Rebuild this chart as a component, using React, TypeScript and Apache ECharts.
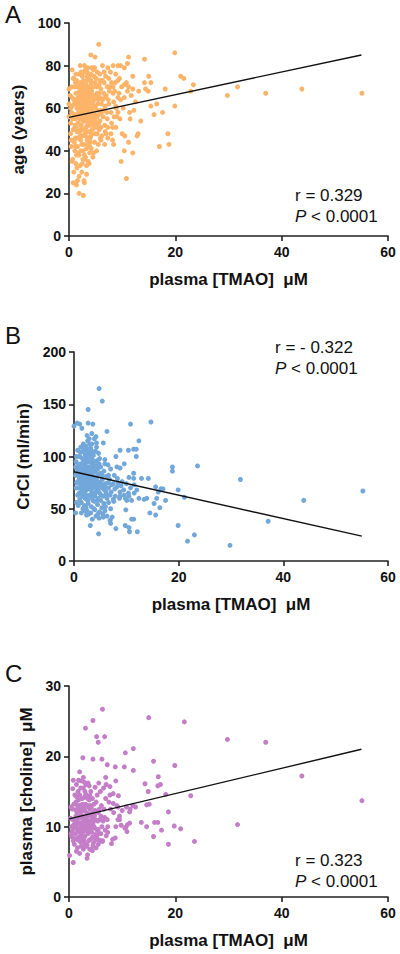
import React, { useEffect, useRef } from "react";
import * as echarts from "echarts";

// ---------- DATA ----------
const xTicks = [0, 20, 40, 60];
const xTitle = "plasma [TMAO]  μM";

const panelLetters = ["A", "B", "C"];
const yTitles = ["age (years)", "CrCl (ml/min)", "plasma [choline]  μM"];
const yRanges = [
  [0, 100, 20],
  [0, 200, 50],
  [0, 30, 10],
];
const rValues = ["r = 0.329", "r = - 0.322", "r = 0.323"];
const pValue = "< 0.0001";

const fitAge = [[0, 55.7], [55, 85]];
const fitCrcl = [[0, 85.4], [55, 23.8]];
const fitCholine = [[0, 11.1], [55, 21]];

const tmaoAge = [
  [5.6, 90], [19.9, 86], [14.2, 83], [11.2, 84], [4.1, 85], [4.9, 84], [21, 75], [21.6, 74],
  [23.4, 71], [22.9, 68], [29.8, 66], [31.7, 70], [37, 67], [43.8, 69], [55.1, 67], [19.9, 61],
  [18.1, 69], [17.6, 58], [18.6, 48], [18.8, 43], [17, 42], [16, 57], [15.4, 61], [16.5, 62],
  [15, 75], [14.2, 72], [15.4, 72], [14.4, 69], [14.9, 68], [13.1, 68], [12, 75], [12, 69],
  [12.2, 59], [13.5, 54], [13, 48], [12.8, 47], [12, 39], [10.8, 27], [9.8, 35], [10.4, 40],
  [10.5, 47], [10, 48], [11.2, 44], [11.4, 58], [11.5, 55], [11, 81], [10.4, 79], [9.7, 80],
  [9.2, 80], [8.3, 80], [8.8, 76], [7.8, 77], [7.3, 79], [6.3, 80], [9.2, 73], [8.7, 72],
  [7.2, 70], [7.8, 70], [8.3, 70], [8.3, 67], [9.2, 65], [9.7, 64], [8.8, 61], [9.2, 58],
  [8.5, 56], [7.3, 51], [8.2, 51], [7.3, 46], [8.2, 45], [8.4, 43], [6, 45], [9.9, 70],
  [10.4, 71], [10.4, 65], [11.2, 70], [11, 68], [9.4, 67],
  [1.9, 20], [2.7, 19], [0.8, 25], [1.4, 24], [1.6, 26], [2.8, 26], [2.9, 25], [3.3, 29],
  [0.6, 35], [1.3, 34], [2.1, 33], [2.5, 34], [3.1, 37], [3.8, 34], [0.4, 42], [1.2, 42],
  [1.6, 39], [0.9, 45], [2.4, 43], [3.5, 43], [4.6, 39], [4.5, 37], [3.9, 39], [0.3, 48],
  [1.5, 49], [3.1, 47], [4, 46], [5.3, 48], [5.9, 46], [0, 69], [0, 62], [0, 56],
  [0.6, 78], [0.9, 74], [2.1, 80], [2.9, 80], [3.4, 77], [3.8, 75], [4.8, 79], [5.3, 77],
  [5.8, 73], [0.6, 65], [1.2, 64], [1.8, 67],
  [1, 62], [1.5, 60], [2, 63], [2.5, 61], [3, 64], [3.5, 62], [4, 65], [4.5, 63], [5, 60],
  [2.2, 66], [2.8, 68], [3.3, 67], [3.8, 70], [4.3, 68], [1.8, 58], [2.4, 57], [3, 59],
  [3.6, 58], [4.2, 60], [4.8, 57], [5.4, 62], [5.9, 59], [6.3, 64], [6.8, 61], [1.2, 55],
  [1.7, 53], [2.3, 52], [2.9, 54], [3.4, 56], [4, 53], [4.6, 55], [5.2, 52], [5.8, 54],
  [6.4, 56], [0.8, 50], [1.4, 51], [2, 49], [2.6, 50], [3.2, 51], [3.8, 49], [4.4, 50],
  [5, 48], [0.5, 58], [0.9, 64], [1.3, 67], [1.6, 70], [2.1, 72], [2.7, 73], [3.2, 71],
  [3.7, 74], [4.2, 72], [4.7, 75], [5.2, 70], [5.6, 67], [6, 69], [6.6, 72], [7, 66],
  [0.4, 45], [1, 44], [1.6, 46], [2.2, 45], [2.8, 43], [3.4, 45], [4, 44], [1.1, 40],
  [1.9, 38], [2.7, 40], [3.3, 41], [0.7, 36], [1.5, 32], [2.4, 30], [3, 36], [3.6, 35],
  [2.9, 77], [3.5, 79], [4.1, 76], [4.6, 78], [5.1, 74], [2.5, 75], [1.9, 76], [1.4, 73],
  [6.1, 58], [6.7, 52], [7.2, 55], [7.5, 62], [7.9, 58], [8.4, 63], [8.9, 60], [7.6, 68],
  [8, 72], [6.9, 75], [3.1, 57], [2.6, 59], [4.9, 66], [5.5, 64], [3.9, 61], [4.4, 58],
  [2, 55], [1.3, 57], [0.6, 61], [0.3, 53], [0.2, 66], [1.1, 70], [0.8, 74], [5.7, 50],
  [6.2, 47], [4.1, 47], [3.5, 52], [2.1, 47], [1.6, 42], [4.7, 52], [5.3, 56], [4.5, 70],
  [3.4, 73], [2.3, 69], [1.7, 65], [2.6, 64], [3.6, 66], [4.2, 63], [4.8, 61], [5.3, 59],
  [1.9, 61], [3.1, 62], [3.7, 63], [4.5, 65], [2.9, 60], [3.9, 58], [2.5, 56], [3.3, 54],
  [4.3, 56], [5.9, 65], [6.5, 67], [7.3, 70], [8.6, 68], [9.5, 74], [10.8, 72], [11.7, 66],
  [12.5, 63], [10.2, 60], [9, 56], [8, 53], [7, 48], [6.7, 43],
  [2.2, 60], [2.7, 62], [3.2, 60], [3.7, 60], [4.2, 62], [4.7, 60], [3.5, 64], [2.4, 64],
  [3, 66], [4, 67], [5, 66], [3.4, 69], [2.6, 70], [4.1, 70], [1.4, 62], [1.8, 56],
  [2.8, 57], [3.8, 55], [4.6, 57], [5.6, 57], [2.2, 50], [3, 48], [1.2, 46], [3.9, 42],
  [1.1, 52], [1.7, 49], [2.5, 47], [3.3, 49], [4.3, 48], [5.1, 51], [5.6, 53], [6, 51],
  [0.9, 57], [1.6, 57], [2.3, 55], [3.9, 52], [4.9, 54], [6.5, 59], [7.1, 58], [7.4, 64],
  [2, 68], [2.6, 67], [3.1, 69], [3.7, 68], [4.4, 66], [5.3, 67], [5.7, 71], [6.3, 73],
  [1.5, 64], [2.1, 65], [2.8, 65], [3.3, 63], [4.7, 64], [5.4, 65], [6.1, 62], [6.8, 65],
  [0.5, 70], [1.2, 72], [1.9, 71], [2.7, 71], [3.4, 75], [4.1, 73], [4.9, 72], [5.8, 76],
  [1.3, 76], [2.3, 77], [3.1, 78], [4.3, 79], [6.6, 77], [7.5, 74], [0.3, 60], [0.7, 55],
  [1.4, 38], [2.2, 40], [2.9, 38], [3.7, 46], [4.8, 44], [5.5, 43], [0.9, 30], [1.9, 28],
  [2.6, 36], [3.3, 33], [4.2, 41], [5.2, 40], [6.8, 49], [7.9, 48], [8.8, 51], [9.6, 55],
  [2.3, 58], [2.8, 59], [3.4, 58], [4.1, 57], [3.6, 56], [3.1, 55], [2.6, 54], [4.4, 54],
];

const tmaoCrcl = [
  [4.8, 165], [5.4, 153], [2.7, 145], [14.7, 133], [10.8, 131], [0, 129], [0.6, 132], [1.1, 131],
  [1.5, 127], [2.7, 132], [3.6, 131], [6.3, 124], [12.4, 115], [11.4, 107], [11.9, 107], [10.4, 106],
  [11.9, 100], [8.8, 106], [8, 100], [8.2, 90], [8.8, 89], [9.6, 93], [18.8, 90], [18.8, 86],
  [23.6, 91], [31.8, 78], [55.2, 67], [43.9, 58], [37.1, 38], [29.8, 15], [23, 25], [21.7, 19],
  [19.9, 34], [19.9, 68], [21.1, 61], [17.5, 58], [16.6, 69], [16.1, 66], [17, 69], [15.6, 71],
  [15.8, 60], [15.3, 55], [14.5, 46], [15.6, 44], [16.4, 51], [14.2, 79], [12.9, 79], [13.4, 59],
  [13.9, 60], [12.4, 60], [11.5, 65], [11.4, 79], [11.4, 84], [10.5, 80], [12.1, 28], [11, 40],
  [11.4, 40], [10.5, 32], [10.6, 28], [9.8, 34], [9.9, 49], [8, 31], [7, 36], [5.6, 42],
  [4.8, 41], [4.7, 26], [3.1, 34], [2.4, 44], [0.3, 46], [0.5, 56], [2.3, 51], [6.9, 39],
  [7.6, 57], [8.7, 60], [9.6, 63], [10.4, 65], [10.1, 58], [8.8, 66], [8.2, 71], [7.5, 74],
  [6.6, 82], [5.9, 93], [4.9, 98], [4.1, 105], [4.2, 119], [4.3, 113], [5.6, 113], [2.9, 117],
  [3.4, 122],
  [0.5, 75], [1, 80], [1.5, 85], [2, 90], [2.5, 95], [3, 100], [3.5, 97], [4, 93], [4.5, 88],
  [5, 84], [1.2, 70], [1.8, 72], [2.4, 68], [3, 74], [3.6, 70], [4.2, 76], [4.8, 72],
  [5.4, 78], [6, 74], [6.6, 70], [1, 65], [1.6, 62], [2.2, 64], [2.8, 60], [3.4, 66],
  [4, 62], [4.6, 67], [5.2, 63], [5.8, 68], [0.6, 88], [1.3, 93], [2, 98], [2.7, 103],
  [3.2, 108], [2.3, 110], [1.7, 105], [2.9, 95], [3.7, 101], [4.4, 96], [1.1, 100], [0.4, 95],
  [0.8, 85], [2.1, 82], [2.6, 78], [3.3, 84], [3.9, 80], [4.6, 82], [5.1, 90], [5.7, 86],
  [6.2, 81], [6.8, 78], [7.2, 73], [7.8, 69], [8.4, 75], [9, 72], [9.5, 68], [10, 74],
  [10.8, 70], [11.5, 73], [12, 68], [1.4, 56], [2, 53], [2.7, 55], [3.3, 52], [3.9, 57],
  [4.5, 54], [5.1, 58], [5.7, 55], [6.3, 60], [2.5, 48], [3.2, 46], [4, 49], [4.9, 47],
  [1.9, 76], [2.4, 87], [3.1, 89], [3.8, 87], [4.1, 71], [3.6, 78], [2.9, 81], [1.5, 78],
  [0.9, 77], [0.3, 82], [1.7, 68], [2.3, 73], [4.3, 67], [5.3, 70], [6.1, 66], [6.9, 63],
  [7.5, 59], [2.1, 102], [3.4, 105], [4.7, 103], [1.9, 108], [2.6, 115], [3, 112], [3.9, 117],
  [1.3, 109], [0.7, 106], [5.9, 97], [6.5, 92], [7, 88], [7.7, 82], [8.3, 79], [9.2, 76],
  [8.8, 62], [9.8, 60], [10.5, 62], [11, 58], [6, 52], [7, 50], [5.5, 45], [4.2, 43],
  [3.5, 40], [2.8, 45], [6.3, 43], [7.3, 42],
  [2.2, 96], [2.8, 99], [3.3, 94], [2.5, 90], [3.7, 91], [1.8, 94], [3.1, 104], [2.4, 106],
  [1.5, 89], [2.2, 86], [3.5, 73], [4.4, 74], [2.7, 72], [3.2, 69], [1.9, 66], [4.9, 65],
  [5.6, 73], [3.8, 64], [1.3, 75], [0.8, 70], [2.6, 62], [4.6, 60], [3.6, 58], [1.1, 59],
  [1.6, 98], [2.4, 100], [3.6, 103], [2.9, 107], [1.8, 112], [2.5, 120], [3.4, 112], [4.3, 109],
  [1.2, 104], [0.5, 100], [0.9, 92], [1.6, 81], [2.3, 79], [3.1, 79], [4.4, 80], [5.4, 82],
  [0.4, 70], [1.1, 74], [1.9, 70], [2.8, 69], [3.8, 74], [4.6, 76], [5.9, 71], [6.5, 75],
  [0.7, 63], [1.4, 66], [2.1, 60], [3, 63], [4.1, 65], [5.6, 62], [6.2, 64], [7.1, 66],
  [0.8, 53], [1.7, 50], [2.6, 58], [3.5, 61], [4.5, 58], [5.3, 51], [6.6, 56], [7.9, 62],
  [1.4, 46], [2.1, 48], [3.8, 50], [4.6, 45], [5.9, 48], [3.4, 88], [4.3, 91], [2.7, 85],
  [1.9, 86], [1.2, 88], [3.9, 95], [4.8, 93], [2.1, 93], [1.5, 71], [2.5, 75], [3.3, 77],
  [4.5, 70], [5, 75], [2, 77], [3.5, 82], [4.1, 85], [1.1, 83], [0.3, 90], [2.8, 90],
];

const tmaoCholine = [
  [6.3, 26.7], [4.5, 25.1], [3.1, 24], [5.2, 22.8], [5.5, 22], [6.7, 22.8], [15, 25.5], [21.7, 24.9],
  [29.8, 22.4], [37, 22], [43.8, 17.2], [55.1, 13.7], [31.7, 10.3], [23.6, 7.9], [22.9, 14.4], [21, 9.7],
  [19.8, 10.1], [18.7, 12.1], [18.7, 7.5], [19.9, 18.7], [18.2, 14.6], [15.9, 19.3], [16.8, 17.1], [17.2, 16],
  [16.7, 15.8], [17.4, 9.5], [15.9, 8.6], [16.1, 10.6], [16.7, 10.6], [14.6, 10], [13.6, 10.6], [14.3, 16.1],
  [14.9, 15], [14.6, 13.1], [15.1, 13.2], [12.1, 18], [12.1, 21.1], [10.6, 20.5], [10.4, 18.5], [12.5, 12.8],
  [11.4, 12.1], [10.7, 9.9], [10.9, 9.3], [11.4, 10.5], [9.3, 14.4], [8.7, 18.5], [8.8, 16.5], [7.7, 15.7],
  [8.3, 14.7], [9.2, 12.8], [9.5, 11], [8.2, 8.2], [8.7, 8.4], [7.3, 9.2], [8, 7.6], [5.7, 8.1],
  [4.4, 6.6], [3.4, 5.5], [0.8, 4.9], [0.1, 5.9], [7.2, 18.8], [6.9, 17], [6.2, 19.6], [4.5, 19.6],
  [2.6, 19.8], [2, 17.8], [0.8, 16.6], [1.8, 16.6],
  [0.5, 10], [1, 11], [1.5, 12], [2, 13], [2.5, 14], [3, 15], [3.5, 14], [4, 13], [4.5, 12],
  [5, 11], [1.2, 9], [1.8, 8.5], [2.4, 9.5], [3, 10], [3.6, 9], [4.2, 10.5], [4.8, 9.8],
  [5.4, 10.8], [6, 11.5], [6.6, 12.5], [1, 7.5], [1.6, 7], [2.2, 7.8], [2.8, 8], [3.4, 7.4],
  [4, 8.2], [4.6, 7.7], [5.2, 8.5], [5.8, 7.9], [0.6, 12.5], [1.3, 13.5], [2, 14.5], [2.7, 15.5],
  [3.2, 16], [2.3, 16.5], [1.7, 15], [2.9, 12.5], [3.7, 11.5], [4.4, 14], [1.1, 14.5], [0.4, 9],
  [0.8, 8], [2.1, 10.5], [2.6, 11.5], [3.3, 12], [3.9, 10.8], [4.6, 11], [5.1, 13.5], [5.7, 12.5],
  [6.2, 10], [6.8, 9.5], [7.2, 11], [7.8, 12.5], [8.4, 12], [9, 13], [9.5, 11.5], [10, 12.3],
  [10.8, 12.8], [11.5, 12.5], [12, 13], [1.4, 6.5], [2, 6.2], [2.7, 6.8], [3.3, 7.2], [3.9, 6.8],
  [4.5, 7.3], [5.1, 7], [5.7, 9], [6.3, 8], [2.5, 10.2], [3.2, 11.2], [4, 11.8], [4.9, 12.3],
  [1.9, 11.7], [2.4, 12.8], [3.1, 13.2], [3.8, 13.8], [4.1, 15], [3.6, 16.2], [2.9, 14.2], [1.5, 10.8],
  [0.9, 10.3], [0.3, 11.2], [1.7, 9.7], [2.3, 8.8], [4.3, 9.2], [5.3, 9.5], [6.1, 13], [6.9, 14],
  [7.5, 13.5], [2.1, 11.3], [3.4, 9.8], [4.7, 10], [1.9, 12.4], [2.6, 9.2], [3, 8.6], [3.9, 12.5],
  [1.3, 11.5], [0.7, 11], [5.9, 15], [6.5, 15.5], [7, 16], [7.7, 14.5], [8.3, 13.3], [9.2, 11],
  [8.8, 10], [9.8, 10.2], [10.5, 9.8], [11, 10.3], [6, 9], [7, 8.7], [5.5, 7.5], [4.2, 6.7],
  [3.5, 6], [2.8, 7.2], [6.3, 7.9], [7.3, 10],
  [2.2, 12], [2.8, 13], [3.3, 10.5], [3.7, 12.8], [4.3, 11.4], [1.6, 13], [2.5, 8.2], [3.1, 9.4],
  [4.1, 9.6], [1.1, 9.8], [0.5, 8.6], [2, 9.2], [3.6, 10.2], [4.8, 10.9], [5.5, 12], [1.4, 10.2],
  [1.7, 11.2], [2.3, 10], [2.9, 11], [3.5, 11.6], [4.5, 10.4], [1.2, 12.4], [1.8, 13.8], [2.5, 13.2],
  [3.2, 14.6], [3.9, 14.4], [4.7, 13.2], [5.3, 14.5], [5.8, 11], [0.9, 13.2], [0.4, 12.8], [1.5, 14.2],
  [2.2, 15.5], [2.9, 16.3], [3.8, 15.8], [4.9, 15.6], [5.6, 16.2], [1.4, 16], [0.7, 15.4], [2.7, 17],
  [1.1, 8.3], [1.7, 8.1], [2.3, 7.2], [3, 7.6], [3.7, 8], [4.4, 8.5], [5, 8.9], [5.5, 9.6],
  [0.6, 9.4], [1.3, 10.6], [2.6, 10.7], [3.3, 10.9], [4, 10], [4.8, 11.6], [2, 11.9], [2.7, 12.3],
  [3.5, 13], [4.2, 12.7], [1.6, 9.3], [2.9, 9.8], [3.7, 9.4], [4.9, 8.1], [6.4, 10.8], [6.7, 11.3],
];

const colors = ["#FDB469", "#72A7DA", "#C47EC8"];

// ---------- LAYOUT ----------
const grids = [
  { left: 69, top: 23, width: 319, height: 213 },
  { left: 74, top: 352, width: 314, height: 209 },
  { left: 69, top: 686, width: 319, height: 211 },
];
const yNameGaps = [30, 37, 28];
const letterPos = [[5, 14], [5, 335], [5, 673]];
const annPos = [[295, 195], [275, 347], [295, 860]];

export default function App() {
  const ref = useRef<HTMLDivElement>(null);
  useEffect(() => {
    if (!ref.current) return;
    const chart = echarts.init(ref.current, null, { renderer: "svg" });
    const font = "Liberation Sans, Arial, Helvetica, sans-serif";
    const axisLine = { lineStyle: { color: "#222", width: 1.6 } };
    const axisTick = { length: 5, lineStyle: { color: "#222", width: 1.6 } };
    const scatterData = [tmaoAge, tmaoCrcl, tmaoCholine];
    const fits = [fitAge, fitCrcl, fitCholine];

    const xAxis = grids.map((_, i) => ({
      gridIndex: i,
      type: "value",
      min: xTicks[0],
      max: xTicks[xTicks.length - 1],
      interval: 20,
      splitLine: { show: false },
      axisLine,
      axisTick,
      axisLabel: { color: "#111", fontWeight: "bold", fontSize: 14, fontFamily: font, margin: 9 },
      name: xTitle,
      nameLocation: "middle",
      nameGap: 35,
      nameTextStyle: { color: "#111", fontWeight: "bold", fontSize: 17, fontFamily: font },
    }));
    const yAxis = grids.map((_, i) => ({
      gridIndex: i,
      type: "value",
      min: yRanges[i][0],
      max: yRanges[i][1],
      interval: yRanges[i][2],
      splitLine: { show: false },
      axisLine,
      axisTick,
      axisLabel: { color: "#111", fontWeight: "bold", fontSize: 14, fontFamily: font, margin: 8 },
      name: yTitles[i],
      nameLocation: "middle",
      nameGap: yNameGaps[i],
      nameTextStyle: { color: "#111", fontWeight: "bold", fontSize: 17, fontFamily: font },
    }));

    const series: any[] = [];
    scatterData.forEach((d, i) => {
      series.push({
        type: "scatter",
        xAxisIndex: i,
        yAxisIndex: i,
        data: d,
        symbolSize: 5,
        itemStyle: { color: colors[i], opacity: 1 },
      });
      series.push({
        type: "line",
        xAxisIndex: i,
        yAxisIndex: i,
        data: fits[i],
        symbol: "none",
        lineStyle: { color: "#111", width: 1.4 },
        z: 5,
      });
    });

    const graphic: any[] = [];
    panelLetters.forEach((l, i) => {
      graphic.push({
        type: "text",
        x: letterPos[i][0],
        y: letterPos[i][1],
        style: { text: l, fontSize: 24, fontFamily: font, fill: "#111", verticalAlign: "middle" },
      });
      graphic.push({
        type: "text",
        x: annPos[i][0],
        y: annPos[i][1],
        style: { text: rValues[i], fontSize: 17, fontFamily: font, fill: "#111", verticalAlign: "middle" },
      });
      graphic.push({
        type: "text",
        x: annPos[i][0],
        y: annPos[i][1] + 21,
        style: {
          text: "{i|P} " + pValue,
          fontSize: 17,
          fontFamily: font,
          fill: "#111",
          verticalAlign: "middle",
          rich: { i: { fontStyle: "italic", fontSize: 17, fontFamily: font, fill: "#111" } },
        },
      });
    });

    chart.setOption({
      animation: false,
      backgroundColor: "#fff",
      grid: grids.map((g) => ({ ...g, containLabel: false })),
      xAxis,
      yAxis,
      series,
      graphic,
    });
    return () => chart.dispose();
  }, []);
  return (
    <div
      ref={ref}
      style={{ position: "absolute", left: 0, top: 0, width: 400, height: 954, background: "#fff" }}
    />
  );
}
